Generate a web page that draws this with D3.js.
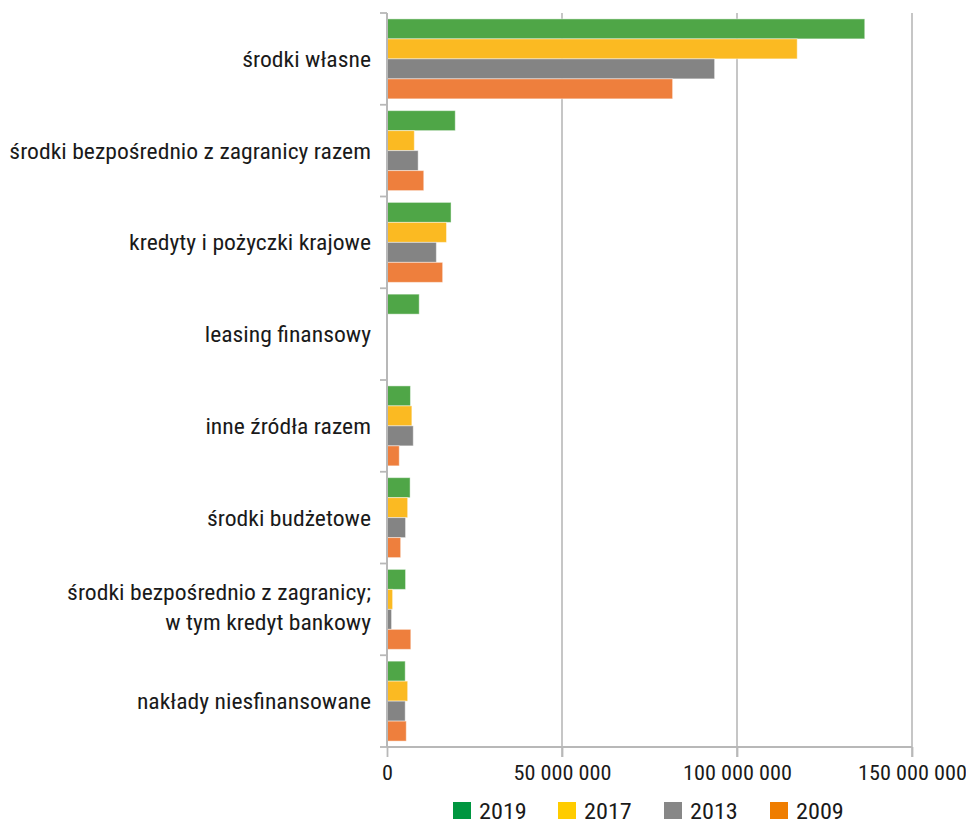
<!DOCTYPE html>
<html>
<head>
<meta charset="utf-8">
<script src="https://cdn.jsdelivr.net/npm/d3@7"></script>
<style>
  html, body { margin: 0; padding: 0; background: #fff; }
  svg { display: block; }
  text { font-family: "Roboto Condensed", Roboto, "Liberation Sans Narrow", sans-serif; fill: #1a1a1a; }
</style>
</head>
<body>
<svg id="chart" width="966" height="824"></svg>
<script>
const categories = [
  "środki własne",
  "środki bezpośrednio z zagranicy razem",
  "kredyty i pożyczki krajowe",
  "leasing finansowy",
  "inne źródła razem",
  "środki budżetowe",
  "środki bezpośrednio z zagranicy;\nw tym kredyt bankowy",
  "nakłady niesfinansowane"
];
const years = ["2019", "2017", "2013", "2009"];
const values2019 = [136500000, 19500000, 18300000, 9200000, 6700000, 6600000, 5300000, 5200000];
const values2017 = [117200000, 7800000, 17000000, null, 7100000, 5900000, 1600000, 5900000];
const values2013 = [93600000, 8900000, 14100000, null, 7500000, 5300000, 1300000, 5200000];
const values2009 = [81600000, 10500000, 15900000, null, 3500000, 3900000, 6800000, 5500000];
const xTicks = [0, 50000000, 100000000, 150000000];
const barColors = ["#4fa647", "#fbba22", "#848484", "#ee7f3d"];
const legendColors = ["#009640", "#ffcc00", "#878787", "#ef7d00"];

const seriesValues = [values2019, values2017, values2013, values2009];
const rows = [];
categories.forEach((c, i) => {
  years.forEach((y, j) => {
    rows.push({ cat: c, year: y, value: seriesValues[j][i], j });
  });
});

const svg = d3.select("#chart");

const x = d3.scaleLinear().domain([0, 150000000]).range([387, 912]);
const yBand = d3.scaleBand().domain(categories).range([13, 747]).paddingInner(0).paddingOuter(0);
const inner = d3.scaleBand().domain(years).range([5.9, yBand.bandwidth() - 5.9]).padding(0);

// gridlines
svg.append("g").selectAll("line").data(xTicks.slice(1)).join("line")
  .attr("x1", d => x(d)).attr("x2", d => x(d))
  .attr("y1", 13).attr("y2", 757)
  .attr("stroke", "#c0c0c0").attr("stroke-width", 1.8);

// bars
svg.append("g").selectAll("rect").data(rows.filter(r => r.value != null)).join("rect")
  .attr("x", x(0))
  .attr("y", d => yBand(d.cat) + inner(d.year))
  .attr("width", d => x(d.value) - x(0))
  .attr("height", inner.bandwidth())
  .attr("fill", d => barColors[d.j])
  .attr("stroke", "rgba(255,255,255,0.45)")
  .attr("stroke-width", 1);

// x axis
const xAxis = d3.axisBottom(x).tickValues(xTicks).tickSize(10)
  .tickFormat(d => d3.format(",")(d).replace(/,/g, " "));
const gx = svg.append("g").attr("transform", "translate(0,747)").call(xAxis);
gx.select(".domain").attr("stroke", "#b8b8b8").attr("stroke-width", 2).attr("d", "M387,0H912");
gx.selectAll(".tick line").attr("stroke", "#b8b8b8").attr("stroke-width", 1.8);
gx.selectAll(".tick text").each(function () {
  d3.select(this).attr("y", null).attr("dy", null)
    .attr("transform", "translate(0,33) scale(1.06,1)")
    .attr("font-size", 21).attr("fill", "#1a1a1a").attr("text-anchor", "middle");
});

// y axis
const yTicks = d3.range(categories.length + 1).map(i => 13 + i * yBand.step());
const gy = svg.append("g");
gy.append("line").attr("x1", 387).attr("x2", 387).attr("y1", 13).attr("y2", 747)
  .attr("stroke", "#b8b8b8").attr("stroke-width", 2);
gy.selectAll("line.t").data(yTicks).join("line").attr("class", "t")
  .attr("x1", 380).attr("x2", 387).attr("y1", d => d).attr("y2", d => d)
  .attr("stroke", "#b8b8b8").attr("stroke-width", 1.8);

// category labels
const labels = svg.append("g").selectAll("text").data(categories).join("text")
  .attr("text-anchor", "end").attr("font-size", 22)
  .attr("transform", d => `translate(371,${yBand(d) + yBand.bandwidth() / 2}) scale(1.075,1)`);
labels.each(function (d) {
  const lines = d.split("\n");
  const t = d3.select(this);
  const lh = 30;
  const off = lines.length > 1 ? 5.6 : 8;
  lines.forEach((ln, k) => {
    t.append("tspan").attr("x", 0)
      .attr("y", (k - (lines.length - 1) / 2) * lh + off)
      .text(ln);
  });
});

// legend
const legendX = [453, 558, 664, 770];
const lg = svg.append("g").selectAll("g").data(years).join("g")
  .attr("transform", (d, i) => `translate(${legendX[i]},802)`);
lg.append("rect").attr("width", 18).attr("height", 17).attr("fill", (d, i) => legendColors[i]);
lg.append("text").attr("font-size", 22)
  .attr("transform", "translate(26,17) scale(1.1,1)").text(d => d);
</script>
</body>
</html>
